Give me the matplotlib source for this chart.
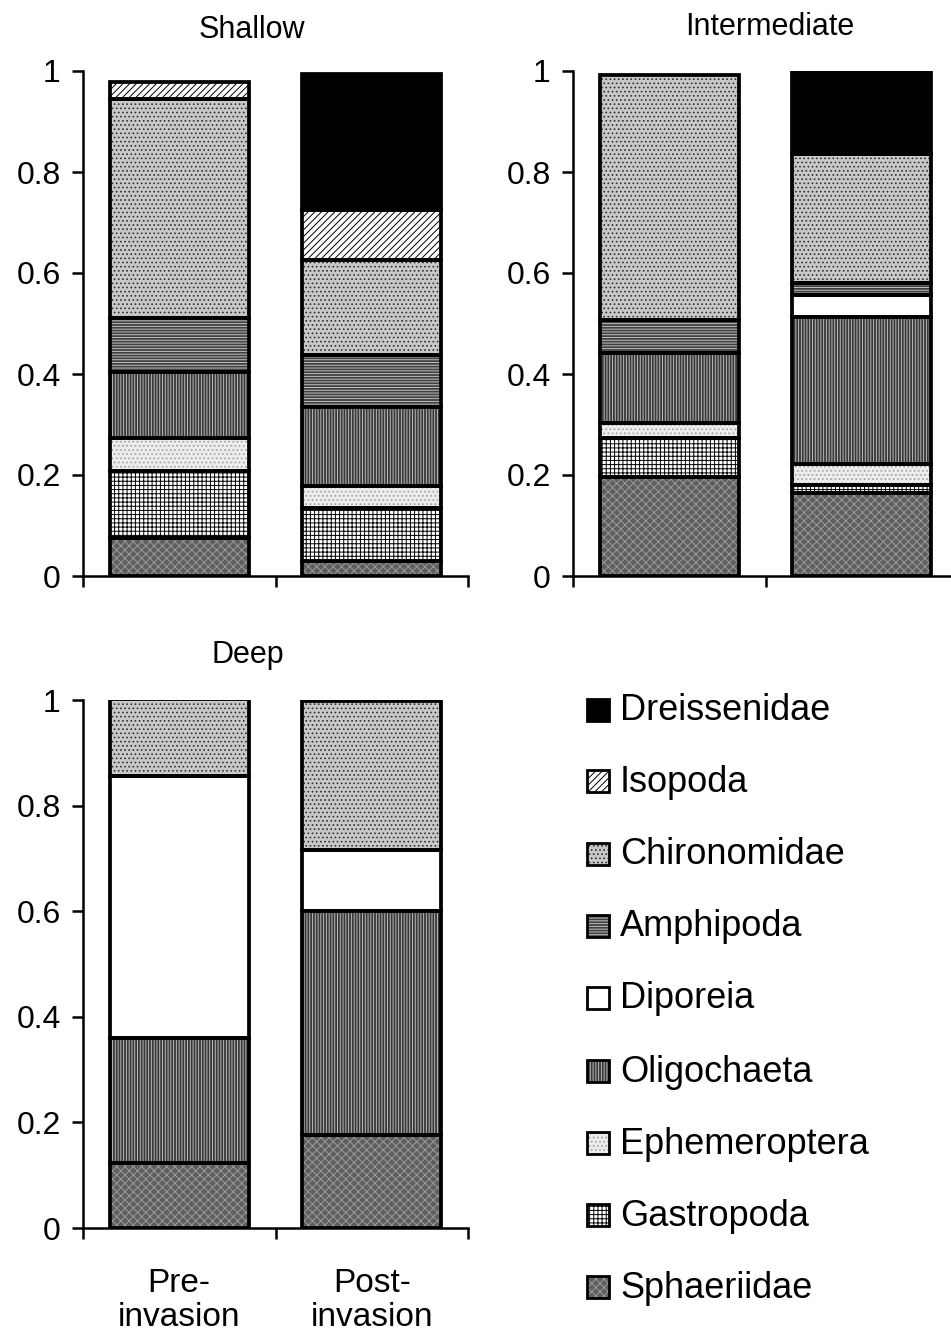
import numpy as np
import matplotlib
matplotlib.use('Agg')
import matplotlib.pyplot as plt
from matplotlib.patches import Rectangle

plt.rcParams['font.family'] = ['Liberation Sans', 'DejaVu Sans']
plt.rcParams['hatch.linewidth'] = 0.7

# ---- данные: доли таксонов (снизу вверх) ----
taxa = ['Sphaeriidae', 'Gastropoda', 'Ephemeroptera', 'Oligochaeta', 'Diporeia',
        'Amphipoda', 'Chironomidae', 'Isopoda', 'Dreissenidae']
periods = ['Pre-\ninvasion', 'Post-\ninvasion']

shallow_pre = [0.075, 0.133, 0.065, 0.130, 0.0, 0.107, 0.434, 0.035, 0.0]
shallow_post = [0.030, 0.105, 0.043, 0.157, 0.0, 0.103, 0.188, 0.099, 0.270]
inter_pre = [0.197, 0.076, 0.029, 0.139, 0.0, 0.066, 0.485, 0.0, 0.0]
inter_post = [0.165, 0.015, 0.042, 0.291, 0.043, 0.025, 0.254, 0.0, 0.165]
deep_pre = [0.123, 0.0, 0.0, 0.237, 0.496, 0.0, 0.145, 0.0, 0.0]
deep_post = [0.176, 0.0, 0.0, 0.425, 0.114, 0.0, 0.284, 0.0, 0.0]

# ---- стили заливки: (фон, штриховка, цвет штриховки) ----
styles = {
    'Sphaeriidae':   ('#5e5e5e', 'xxxx', '#9a9a9a'),
    'Gastropoda':    ('white', '++++', 'black'),
    'Ephemeroptera': ('#ececec', '....', '#a0a0a0'),
    'Oligochaeta':   ('#383838', '||||||', '#b8b8b8'),
    'Diporeia':      ('white', '', 'white'),
    'Amphipoda':     ('#404040', '------', '#c0c0c0'),
    'Chironomidae':  ('#c8c8c8', '....', '#303030'),
    'Isopoda':       ('white', '/////', 'black'),
    'Dreissenidae':  ('black', '', 'black'),
}

EDGE_LW = 2.7
W, H = 951, 1337
fig = plt.figure(figsize=(W / 100, H / 100), dpi=100)


def px_axes(left, top, right, bottom):
    return fig.add_axes([left / W, (H - bottom) / H, (right - left) / W, (bottom - top) / H])


def stacked(ax, pre, post):
    x = np.arange(2)
    data = np.array([pre, post])
    base = np.zeros(2)
    for j, name in enumerate(taxa):
        vals = data[:, j]
        fc, hatch, hc = styles[name]
        for i in range(2):
            if vals[i] <= 0:
                continue
            ax.bar(x[i], vals[i], 0.72, bottom=base[i], color=fc, hatch=hatch,
                   edgecolor=hc, linewidth=0, zorder=2)
            ax.bar(x[i], vals[i], 0.72, bottom=base[i], fill=False,
                   edgecolor='black', linewidth=EDGE_LW, zorder=3)
        base += vals
    ax.set_xlim(-0.5, 1.5)
    ax.set_ylim(0, 1)
    ax.set_xticks([-0.5, 0.5, 1.5])
    ax.set_xticklabels([])
    ax.set_yticks([0, 0.2, 0.4, 0.6, 0.8, 1.0])
    ax.set_yticklabels(['0', '0.2', '0.4', '0.6', '0.8', '1'])
    ax.tick_params(axis='y', direction='out', length=8, width=1.8, labelsize=23, pad=8)
    ax.tick_params(axis='x', direction='out', length=8, width=1.8)
    for s in ['top', 'right']:
        ax.spines[s].set_visible(False)
    for s in ['left', 'bottom']:
        ax.spines[s].set_linewidth(1.8)
    ax.set_facecolor('none')


ax_sh = px_axes(83, 71, 468, 576)
ax_in = px_axes(573, 71, 958, 576)
ax_dp = px_axes(83, 700, 468, 1228)

stacked(ax_sh, shallow_pre, shallow_post)
stacked(ax_in, inter_pre, inter_post)
stacked(ax_dp, deep_pre, deep_post)

# подписи периодов под нижней панелью
ax_dp.set_xticks([0, 1], minor=True)
ax_dp.set_xticklabels(periods, minor=True, fontsize=24, linespacing=1.12)
ax_dp.tick_params(axis='x', which='minor', length=0, pad=29)

# заголовки панелей
fig.text(252 / W, 1 - 30 / H, 'Shallow', fontsize=22, ha='center', va='center')
fig.text(770 / W, 1 - 27 / H, 'Intermediate', fontsize=22, ha='center', va='center')
fig.text(248 / W, 1 - 655 / H, 'Deep', fontsize=22, ha='center', va='center')

# ---- легенда ----
ax_leg = fig.add_axes([0, 0, 1, 1], zorder=-1)
ax_leg.set_xlim(0, W)
ax_leg.set_ylim(H, 0)
ax_leg.axis('off')
leg_y = [710, 781, 854, 926, 998, 1071, 1143, 1215, 1287]
for cy, name in zip(leg_y, taxa[::-1]):
    fc, hatch, hc = styles[name]
    ax_leg.add_patch(Rectangle((587, cy - 11), 22, 22, facecolor=fc, hatch=hatch,
                               edgecolor=hc, linewidth=0))
    ax_leg.add_patch(Rectangle((587, cy - 11), 22, 22, fill=False,
                               edgecolor='black', linewidth=2))
    ax_leg.text(620, cy + 1, name, fontsize=26, ha='left', va='center')

fig.savefig('out.png', dpi=100)
